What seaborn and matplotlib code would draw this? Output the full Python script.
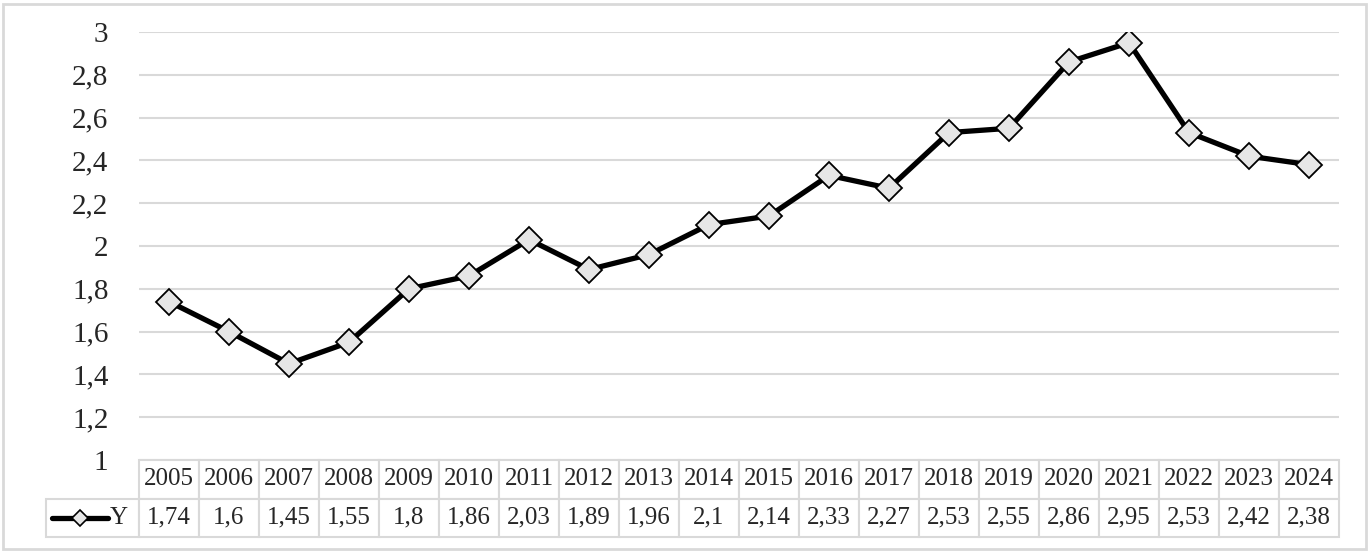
import matplotlib
matplotlib.use("Agg")
import matplotlib.pyplot as plt
from matplotlib.lines import Line2D
from matplotlib.patches import Rectangle
from matplotlib.ticker import FuncFormatter
import seaborn as sns
import pandas as pd
import numpy as np

years = ["2005", "2006", "2007", "2008", "2009", "2010", "2011", "2012", "2013", "2014",
         "2015", "2016", "2017", "2018", "2019", "2020", "2021", "2022", "2023", "2024"]
values = [1.74, 1.6, 1.45, 1.55, 1.8, 1.86, 2.03, 1.89, 1.96, 2.1,
          2.14, 2.33, 2.27, 2.53, 2.55, 2.86, 2.95, 2.53, 2.42, 2.38]
series_name = "Y"
y_ticks = [1, 1.2, 1.4, 1.6, 1.8, 2, 2.2, 2.4, 2.6, 2.8, 3]

sns.set_theme(style="white")
plt.rcParams["font.family"] = ["Liberation Serif", "DejaVu Serif"]

W, H = 1370, 552
fig = plt.figure(figsize=(W / 100, H / 100), dpi=100)
L, R, T, B = 139, 1339, 32, 460
ax = fig.add_axes([L / W, 1 - B / H, (R - L) / W, (B - T) / H])

df = pd.DataFrame({"year": years, "value": values})
sns.lineplot(data=df, x="year", y="value", ax=ax, color="black", linewidth=3.8,
             marker="D", markersize=13.5, markerfacecolor="#e6e6e6",
             markeredgecolor="black", markeredgewidth=1.3, zorder=3)

ax.set_xlim(-0.5, len(years) - 0.5)
ax.set_ylim(1, 3)
ax.set_yticks(y_ticks)
ax.yaxis.set_major_formatter(FuncFormatter(lambda v, p: ("%g" % v).replace(".", ",")))
ax.grid(axis="y", color="#d9d9d9", linewidth=1.5, zorder=0)
ax.grid(axis="x", visible=False)
for s in ax.spines.values():
    s.set_visible(False)
ax.set_xticks([])
ax.set_xlabel("")
ax.set_ylabel("")
ax.tick_params(axis="y", length=0, pad=22, labelsize=21)

# data table
fmt_vals = [("%g" % v).replace(".", ",") for v in values]
leg_w, col_w = 93, 60
tab_left = 46
row_h_top, row_bot = 460, 537
bbox = [(tab_left - L) / (R - L), (B - row_bot) / (B - T),
        (R - tab_left) / (R - L), (row_bot - B) / (B - T)]
widths = [leg_w] + [col_w] * len(years)
widths = [w / sum(widths) for w in widths]
tbl = ax.table(cellText=[[""] + years, [series_name] + fmt_vals],
               colWidths=widths, bbox=bbox, cellLoc="center")
tbl.auto_set_font_size(False)
for (r, c), cell in tbl.get_celld().items():
    cell.set_edgecolor("#d9d9d9")
    cell.set_linewidth(1.5)
    cell.get_text().set_fontsize(18)
    cell.get_text().set_fontfamily("Liberation Serif")
    if r == 0 and c == 0:
        cell.visible_edges = ""
    if r == 1 and c == 0:
        cell.get_text().set_horizontalalignment("right")
        cell.PAD = 0.12

# legend key in table
ykey = 1 - 518 / H
fig.add_artist(Line2D([52 / W, 108 / W], [ykey, ykey], color="black", linewidth=3.8,
                      solid_capstyle="round"))
fig.add_artist(Line2D([80 / W], [ykey], marker="D", markersize=8,
                      markerfacecolor="#e6e6e6", markeredgecolor="black",
                      markeredgewidth=1.2, linestyle="none"))

# outer border
fig.add_artist(Rectangle((3 / W, 3 / H), (W - 7) / W, (H - 7) / H, fill=False,
                         edgecolor="#d9d9d9", linewidth=2, transform=fig.transFigure))

fig.savefig("out.png", dpi=100)
